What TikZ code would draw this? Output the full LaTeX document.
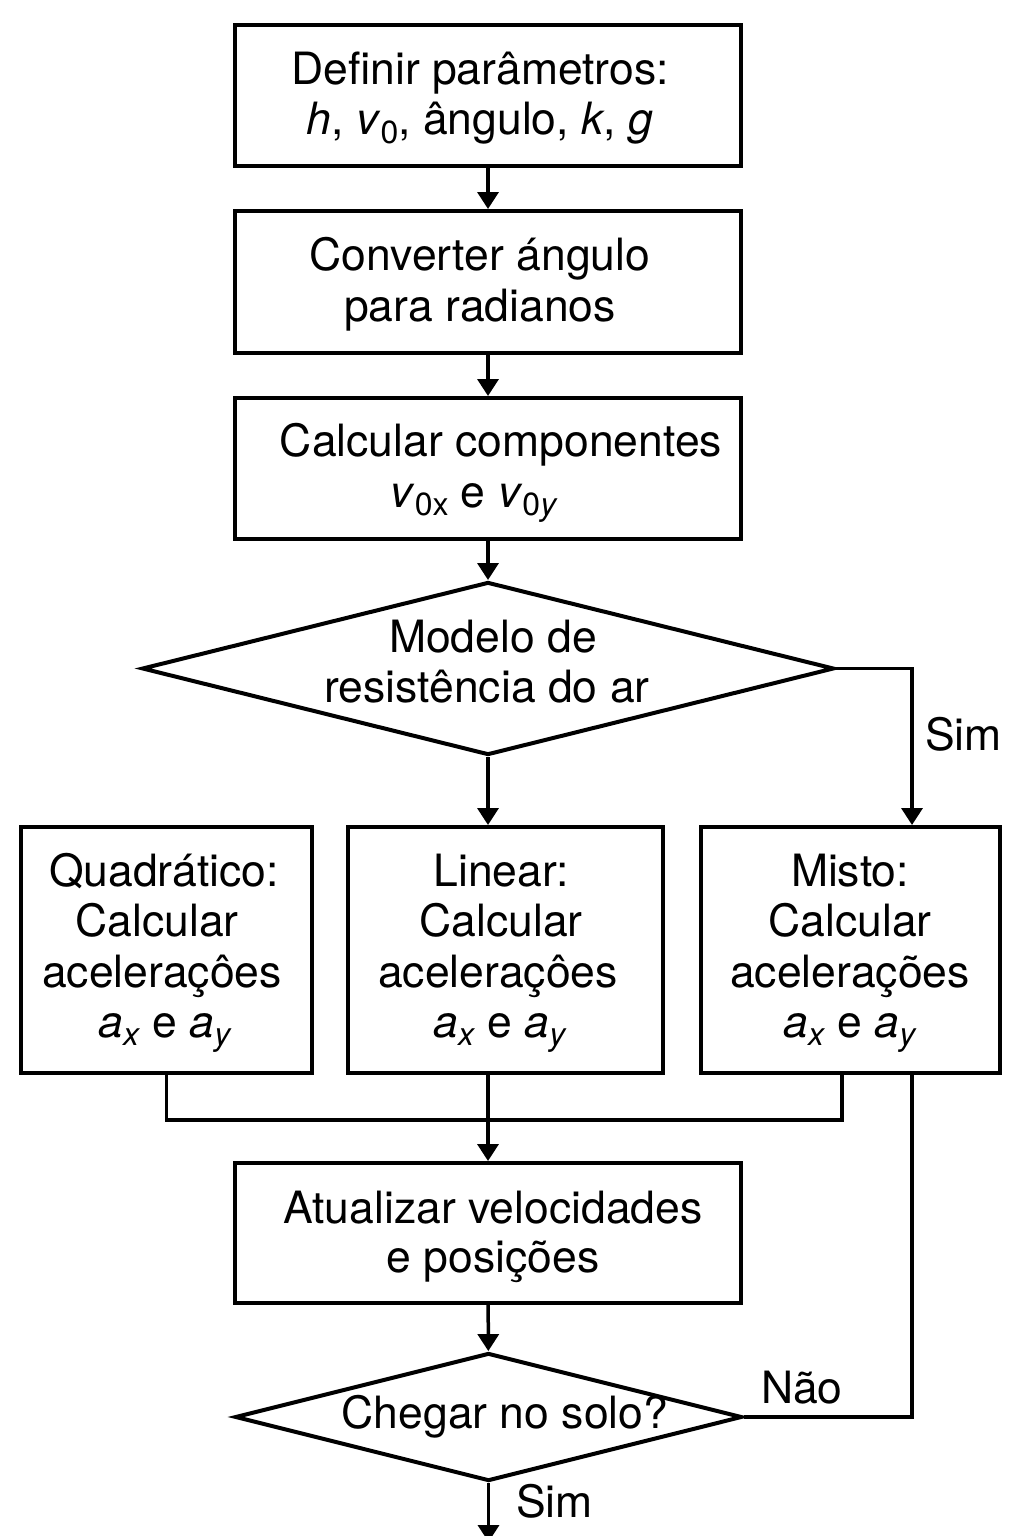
\documentclass[tikz,border=0pt]{standalone}
\usepackage{fontspec}
\setmainfont{TeX Gyre Heros}
\usetikzlibrary{arrows.meta,shapes.geometric}
\newcommand{\sbs}[1]{\raisebox{-0.2em}{\fontsize{32}{32}\selectfont #1}}
\begin{document}
\begin{tikzpicture}[x=1pt,y=-1pt,
  box/.style={draw, rectangle, line width=4pt, inner sep=0pt},
  dec/.style={draw, diamond, line width=4pt, inner sep=0pt},
  txt/.style={anchor=base, inner sep=0pt, font=\fontsize{44.5}{50}\selectfont},
  lbl/.style={anchor=base west, inner sep=0pt, font=\fontsize{44.5}{50}\selectfont},
  con/.style={line width=3.5pt},
  arr/.style={con, -{Triangle[length=17pt,width=21pt]}}]
\fill[white] (0,0) rectangle (1024,1536);
\useasboundingbox (0,0) rectangle (1024,1536);
% shapes
\node[box, minimum width=506pt, minimum height=141pt] (b1) at (488,95.5) {};
\node[box, minimum width=506pt, minimum height=142pt] (b2) at (488,282) {};
\node[box, minimum width=506pt, minimum height=141pt] (b3) at (488,468.5) {};
\node[dec, minimum width=692pt, minimum height=173pt] (d1) at (488,668.5) {};
\node[box, minimum width=291pt, minimum height=246pt] (q) at (166.5,950) {};
\node[box, minimum width=315pt, minimum height=246pt] (l) at (505.5,950) {};
\node[box, minimum width=299pt, minimum height=246pt] (m) at (850.5,950) {};
\node[box, minimum width=506pt, minimum height=140pt] (u) at (488,1233) {};
\node[dec, minimum width=507pt, minimum height=128pt] (d2) at (488.5,1417) {};
% texts
\node[txt] (t1a) at (480,85) {Definir parâmetros:};
\node[txt] (t1b) at (480,135) {\textit{h}, \textit{v}\sbs{0}, ângulo, \textit{k}, \textit{g}};
\node[txt] (t2a) at (480,270) {Converter ángulo};
\node[txt] (t2b) at (480,321) {para radianos};
\node[txt] (t3a) at (501,456) {Calcular componentes};
\node[txt] (t3b) at (474,507) {\textit{v}\sbs{0x} e \textit{v}\sbs{0\textit{y}}};
\node[txt] (t4a) at (493,652) {Modelo de};
\node[txt] (t4b) at (487,702) {resistência do ar};
\node[txt] (tqa) at (164,886) {Quadrático:};
\node[txt] (tqb) at (157,936) {Calcular};
\node[txt] (tqc) at (162,987) {aceleraçôes};
\node[txt] (tqd) at (165,1037) {\textit{a}\sbs{\textit{x}} e \textit{a}\sbs{\textit{y}}};
\node[txt] (tla) at (501,886) {Linear:};
\node[txt] (tlb) at (501,936) {Calcular};
\node[txt] (tlc) at (498,987) {aceleraçôes};
\node[txt] (tld) at (500,1037) {\textit{a}\sbs{\textit{x}} e \textit{a}\sbs{\textit{y}}};
\node[txt] (tma) at (850,886) {Misto:};
\node[txt] (tmb) at (850,936) {Calcular};
\node[txt] (tmc) at (850,987) {acelerações};
\node[txt] (tmd) at (850,1037) {\textit{a}\sbs{\textit{x}} e \textit{a}\sbs{\textit{y}}};
\node[txt] (tua) at (493,1223) {Atualizar velocidades};
\node[txt] (tub) at (493,1272) {e posições};
\node[txt] (td2) at (505,1428) {Chegar no solo?};
\node[lbl] (sim1) at (925,750) {Sim};
\node[lbl] (nao) at (761,1403) {Não};
\node[lbl] (sim2) at (516,1517) {Sim};
% helper coordinates
\coordinate (mx) at (912,0);
\coordinate (mxl) at (842,0);
\coordinate (mergeY) at (0,1120);
\coordinate (endpt) at (488.5,1542);
% connectors
\draw[arr] (b1) -- (b2);
\draw[arr] (b2) -- (b3);
\draw[arr] (b3) -- (d1);
\draw[arr] (d1.south) -- (d1.south |- l.north);
\draw[arr] (d1.east) -| (mx |- m.north);
\draw[con] (q.south) -- (q.south |- mergeY) -| (mxl |- m.south);
\draw[arr] (u.north |- l.south) -- (u.north);
\draw[con] (d2.east) -| (mx |- m.south);
\draw[arr] (u) -- (d2);
\draw[arr] (d2.south) -- (endpt);
\end{tikzpicture}
\end{document}
